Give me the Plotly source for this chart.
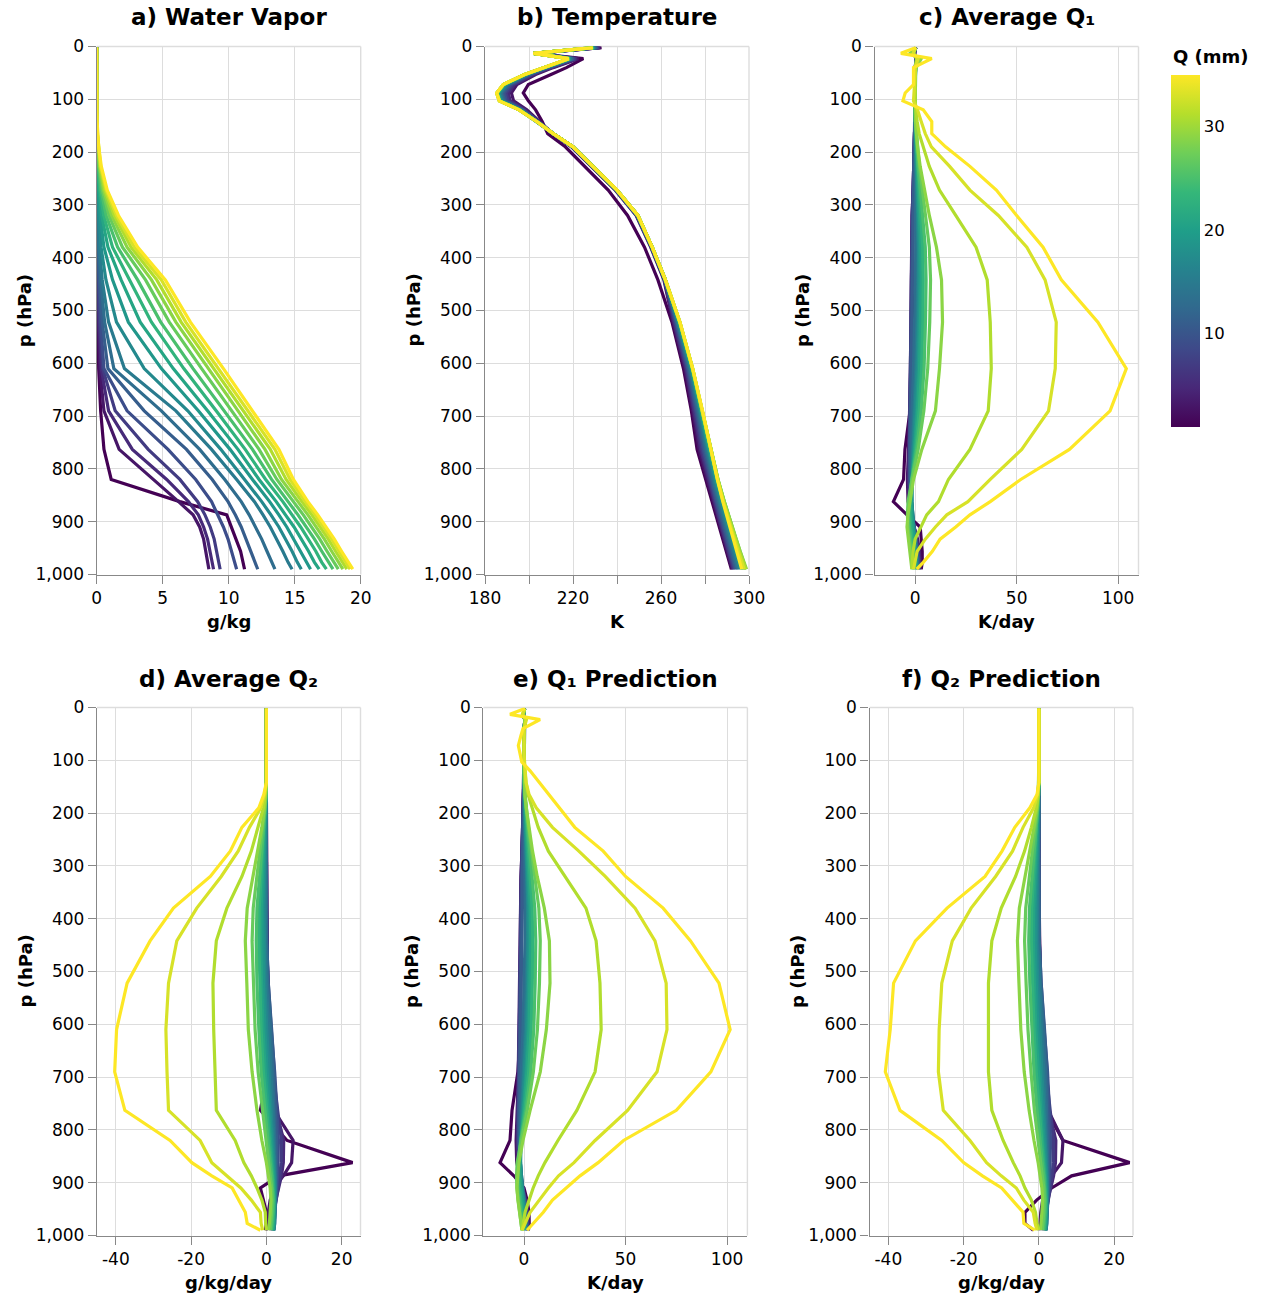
import plotly.graph_objects as go
from plotly.colors import sample_colorscale

W, H = 1263, 1298

# Model pressure levels (hPa), surface first
P_LEVELS = [990, 977, 956, 933, 910, 887, 862, 820, 763, 690, 610, 522, 442, 380, 320,
            272, 227, 190, 165, 142, 120, 103, 88, 72, 53, 40, 23, 13, 2]

# Precipitable-water bins (mm), one profile per bin
Q_BINS = [1, 3, 5, 7, 9, 11, 13, 15, 17, 19, 21, 23, 25, 27, 29, 31, 33, 35]

# a) water vapour (g/kg)
QV = [
    [11.2, 11.1, 10.9, 10.55, 10.2, 9.85, 6.3, 1.1, 0.55, 0.3, 0.15, 0.08, 0.04, 0.02, 0.01, 0, 0, 0, 0, 0, 0, 0, 0, 0, 0, 0, 0, 0, 0],
    [8.5, 8.4, 8.3, 8.1, 7.8, 7.3, 6.2, 4.3, 1.7, 0.55, 0.24, 0.12, 0.06, 0.03, 0.01, 0.01, 0, 0, 0, 0, 0, 0, 0, 0, 0, 0, 0, 0, 0],
    [8.85, 8.75, 8.6, 8.4, 8.1, 7.7, 6.95, 5.3, 2.7, 0.9, 0.34, 0.17, 0.09, 0.04, 0.02, 0.01, 0, 0, 0, 0, 0, 0, 0, 0, 0, 0, 0, 0, 0],
    [9.35, 9.25, 9.1, 8.9, 8.6, 8.2, 7.65, 6.3, 3.9, 1.4, 0.45, 0.22, 0.11, 0.05, 0.03, 0.01, 0, 0, 0, 0, 0, 0, 0, 0, 0, 0, 0, 0, 0],
    [10.6, 10.45, 10.2, 9.95, 9.6, 9.2, 8.7, 7.5, 5.4, 2.3, 0.55, 0.3, 0.15, 0.07, 0.04, 0.02, 0.01, 0, 0, 0, 0, 0, 0, 0, 0, 0, 0, 0, 0],
    [12.2, 12.0, 11.7, 11.35, 10.95, 10.5, 9.95, 8.75, 6.8, 3.6, 0.85, 0.42, 0.2, 0.1, 0.05, 0.02, 0.01, 0, 0, 0, 0, 0, 0, 0, 0, 0, 0, 0, 0],
    [13.5, 13.25, 12.9, 12.5, 12.05, 11.55, 10.95, 9.7, 7.8, 4.9, 1.3, 0.6, 0.3, 0.14, 0.07, 0.03, 0.01, 0, 0, 0, 0, 0, 0, 0, 0, 0, 0, 0, 0],
    [14.8, 14.5, 14.1, 13.65, 13.15, 12.6, 11.95, 10.6, 8.7, 6.0, 2.1, 0.9, 0.42, 0.2, 0.1, 0.04, 0.02, 0.01, 0, 0, 0, 0, 0, 0, 0, 0, 0, 0, 0],
    [15.5, 15.2, 14.8, 14.3, 13.8, 13.2, 12.5, 11.2, 9.4, 6.9, 3.6, 1.5, 0.7, 0.33, 0.15, 0.07, 0.03, 0.01, 0, 0, 0, 0, 0, 0, 0, 0, 0, 0, 0],
    [16.2, 15.9, 15.45, 14.95, 14.4, 13.8, 13.1, 11.8, 10.1, 7.7, 4.9, 2.4, 1.2, 0.55, 0.25, 0.11, 0.05, 0.02, 0.01, 0, 0, 0, 0, 0, 0, 0, 0, 0, 0],
    [16.85, 16.5, 16.05, 15.5, 14.95, 14.3, 13.6, 12.3, 10.7, 8.4, 5.8, 3.3, 1.85, 0.85, 0.38, 0.17, 0.07, 0.03, 0.01, 0, 0, 0, 0, 0, 0, 0, 0, 0, 0],
    [17.4, 17.05, 16.6, 16.05, 15.45, 14.8, 14.1, 12.8, 11.25, 9.05, 6.6, 4.15, 2.5, 1.2, 0.53, 0.24, 0.1, 0.04, 0.02, 0.01, 0, 0, 0, 0, 0, 0, 0, 0, 0],
    [17.9, 17.55, 17.05, 16.5, 15.9, 15.25, 14.5, 13.25, 11.8, 9.65, 7.3, 4.85, 3.1, 1.58, 0.72, 0.32, 0.14, 0.06, 0.02, 0.01, 0, 0, 0, 0, 0, 0, 0, 0, 0],
    [18.3, 17.95, 17.45, 16.9, 16.3, 15.65, 14.9, 13.65, 12.3, 10.2, 7.95, 5.5, 3.7, 1.95, 0.93, 0.42, 0.18, 0.07, 0.03, 0.01, 0, 0, 0, 0, 0, 0, 0, 0, 0],
    [18.65, 18.3, 17.8, 17.25, 16.65, 16.0, 15.25, 14.0, 12.75, 10.7, 8.45, 6.0, 4.15, 2.3, 1.13, 0.52, 0.22, 0.09, 0.04, 0.02, 0.01, 0, 0, 0, 0, 0, 0, 0, 0],
    [18.95, 18.6, 18.1, 17.55, 16.95, 16.3, 15.55, 14.35, 13.15, 11.1, 8.9, 6.4, 4.55, 2.6, 1.33, 0.62, 0.26, 0.11, 0.05, 0.02, 0.01, 0, 0, 0, 0, 0, 0, 0, 0],
    [19.2, 18.85, 18.35, 17.8, 17.2, 16.55, 15.8, 14.65, 13.5, 11.45, 9.25, 6.75, 4.9, 2.85, 1.5, 0.72, 0.3, 0.13, 0.06, 0.02, 0.01, 0, 0, 0, 0, 0, 0, 0, 0],
    [19.4, 19.05, 18.55, 18.0, 17.4, 16.75, 16.0, 14.9, 13.8, 11.8, 9.6, 7.1, 5.2, 3.1, 1.65, 0.8, 0.35, 0.15, 0.07, 0.03, 0.01, 0, 0, 0, 0, 0, 0, 0, 0],
]

# b) temperature (K)
TEMP = [
    [292.0, 291.1, 289.6, 288.1, 286.6, 285.0, 283.3, 280.4, 276.4, 273.8, 270.2, 265.0, 258.6, 252.5, 244.8, 236.0, 225.5, 216.5, 208.5, 206.0, 203.0, 199.7, 197.4, 199.7, 210.0, 217.0, 224.7, 202.5, 233.0],
    [292.4, 291.5, 290.0, 288.5, 287.0, 285.4, 283.8, 281.0, 277.3, 274.4, 270.8, 265.5, 261.3, 255.3, 248.7, 239.2, 228.3, 219.3, 210.8, 204.5, 199.0, 193.0, 192.0, 194.5, 203.0, 211.0, 222.5, 202.4, 232.6],
    [292.8, 291.9, 290.4, 288.9, 287.4, 285.9, 284.3, 281.6, 278.0, 274.9, 271.3, 265.9, 261.5, 255.5, 248.9, 239.4, 228.5, 219.5, 210.9, 204.2, 198.2, 191.5, 190.6, 193.4, 202.0, 210.2, 221.8, 202.3, 232.2],
    [293.2, 292.3, 290.8, 289.3, 287.8, 286.3, 284.7, 282.1, 278.6, 275.4, 271.7, 266.3, 261.6, 255.6, 249.0, 239.5, 228.6, 219.6, 211.0, 204.0, 197.6, 190.5, 189.6, 192.5, 201.3, 209.5, 221.2, 202.3, 231.8],
    [293.7, 292.8, 291.3, 289.7, 288.2, 286.7, 285.1, 282.6, 279.2, 275.9, 272.1, 266.7, 261.7, 255.7, 249.1, 239.6, 228.7, 219.7, 211.0, 203.9, 197.2, 189.7, 188.8, 191.7, 200.6, 208.9, 220.6, 202.2, 231.4],
    [294.2, 293.3, 291.8, 290.2, 288.7, 287.2, 285.6, 283.1, 279.8, 276.4, 272.5, 267.0, 261.8, 255.8, 249.2, 239.7, 228.8, 219.8, 211.0, 203.8, 196.8, 189.0, 188.0, 191.0, 200.0, 208.4, 220.1, 202.2, 231.0],
    [294.8, 293.9, 292.4, 290.8, 289.3, 287.8, 286.2, 283.6, 280.4, 276.9, 272.9, 267.3, 261.8, 255.8, 249.3, 239.8, 228.9, 219.9, 211.0, 203.7, 196.5, 188.4, 187.4, 190.4, 199.5, 207.9, 219.7, 202.1, 230.6],
    [295.4, 294.5, 293.0, 291.4, 289.9, 288.4, 286.7, 284.1, 280.9, 277.4, 273.3, 267.6, 261.9, 255.9, 249.3, 239.8, 228.9, 219.9, 211.0, 203.6, 196.2, 187.9, 186.9, 189.9, 199.1, 207.5, 219.3, 202.1, 230.3],
    [296.0, 295.1, 293.6, 292.0, 290.5, 288.9, 287.2, 284.6, 281.4, 277.8, 273.6, 267.9, 261.9, 255.9, 249.4, 239.9, 229.0, 220.0, 211.0, 203.6, 196.0, 187.5, 186.4, 189.4, 198.8, 207.2, 219.0, 202.1, 230.0],
    [296.6, 295.7, 294.2, 292.6, 291.0, 289.4, 287.7, 285.0, 281.8, 278.1, 273.9, 268.1, 262.0, 256.0, 249.4, 239.9, 229.0, 220.0, 211.0, 203.5, 195.8, 187.2, 186.0, 189.0, 198.5, 206.9, 218.7, 202.0, 229.8],
    [297.2, 296.2, 294.7, 293.1, 291.5, 289.9, 288.1, 285.4, 282.1, 278.4, 274.1, 268.3, 262.0, 256.0, 249.5, 240.0, 229.0, 220.0, 211.0, 203.5, 195.7, 187.0, 185.8, 188.8, 198.3, 206.8, 218.5, 202.0, 229.6],
    [297.7, 296.7, 295.2, 293.5, 291.9, 290.2, 288.4, 285.6, 282.4, 278.6, 274.2, 268.4, 262.0, 256.0, 249.5, 240.0, 229.0, 220.0, 211.0, 203.5, 195.6, 186.8, 185.6, 188.6, 198.2, 206.7, 218.4, 202.0, 229.4],
    [298.2, 297.2, 295.6, 293.9, 292.2, 290.5, 288.7, 285.8, 282.6, 278.7, 274.3, 268.5, 262.0, 256.0, 249.5, 240.0, 229.0, 220.0, 211.0, 203.5, 195.6, 186.7, 185.5, 188.5, 198.1, 206.6, 218.3, 202.0, 229.3],
    [298.6, 297.5, 295.9, 294.1, 292.4, 290.6, 288.8, 285.9, 282.7, 278.8, 274.3, 268.5, 262.0, 256.0, 249.5, 240.0, 229.0, 220.0, 211.0, 203.5, 195.5, 186.6, 185.4, 188.4, 198.0, 206.6, 218.2, 202.0, 229.2],
    [298.9, 297.7, 296.0, 294.2, 292.4, 290.6, 288.8, 285.9, 282.7, 278.8, 274.4, 268.6, 262.0, 256.0, 249.5, 240.0, 229.0, 220.0, 211.0, 203.5, 195.5, 186.5, 185.3, 188.3, 198.0, 206.5, 218.1, 202.0, 229.1],
    [298.5, 297.3, 295.6, 293.8, 292.0, 290.3, 288.5, 285.8, 282.7, 278.9, 274.4, 268.6, 262.0, 256.0, 249.5, 240.0, 229.0, 220.0, 211.0, 203.5, 195.5, 186.5, 185.3, 188.3, 198.0, 206.5, 218.0, 202.0, 229.0],
    [297.8, 296.7, 295.1, 293.4, 291.7, 290.0, 288.3, 285.7, 282.7, 278.9, 274.4, 268.6, 262.0, 256.0, 249.5, 240.0, 229.0, 220.0, 211.0, 203.5, 195.5, 186.5, 185.3, 188.3, 198.0, 206.5, 218.0, 202.0, 229.0],
    [296.7, 295.8, 294.4, 292.8, 291.3, 289.8, 288.1, 285.6, 282.7, 278.9, 274.4, 268.6, 262.0, 256.0, 249.5, 240.0, 229.0, 220.0, 211.0, 203.5, 195.5, 186.5, 185.3, 188.3, 198.0, 206.5, 218.0, 202.0, 229.0],
]

# c) average apparent heating Q1 (K/day)
Q1_AVG = [
    [3.0, 3.5, 3.5, 3.0, 2.5, -4.0, -10.7, -5.7, -5.0, -2.5, -1.5, -1.2, -1.2, -1.5, -1.2, -0.8, -0.5, -0.3, -0.2, -0.1, 0.0, 0.0, 0.0, 0.0, 0.0, 0.1, 0.3, -0.2, 0.3],
    [2.5, 2.6, 2.2, 1.2, -0.5, -2.0, -3.5, -3.8, -3.2, -2.6, -2.2, -1.9, -1.8, -1.8, -1.5, -1.0, -0.6, -0.3, -0.2, -0.1, 0.0, 0.0, 0.0, 0.0, 0.0, 0.1, 0.4, -0.3, 0.3],
    [2.2, 2.2, 1.8, 0.8, -0.6, -1.8, -2.8, -3.3, -3.0, -2.6, -2.3, -2.0, -1.9, -1.8, -1.5, -1.0, -0.6, -0.3, -0.2, -0.1, 0.0, 0.0, 0.0, 0.0, 0.0, 0.1, 0.4, -0.3, 0.3],
    [2.0, 1.9, 1.5, 0.6, -0.6, -1.6, -2.4, -2.9, -2.8, -2.6, -2.3, -2.0, -1.8, -1.7, -1.4, -1.0, -0.6, -0.3, -0.2, -0.1, 0.0, 0.0, 0.0, 0.0, 0.0, 0.1, 0.5, -0.4, 0.3],
    [1.8, 1.6, 1.2, 0.4, -0.6, -1.4, -2.1, -2.6, -2.7, -2.5, -2.2, -1.8, -1.6, -1.5, -1.2, -0.9, -0.5, -0.3, -0.2, -0.1, 0.0, 0.0, 0.0, 0.0, 0.0, 0.1, 0.5, -0.4, 0.3],
    [1.6, 1.4, 1.0, 0.3, -0.6, -1.3, -1.9, -2.4, -2.5, -2.2, -1.8, -1.3, -1.0, -1.0, -0.9, -0.7, -0.4, -0.2, -0.1, 0.0, 0.0, 0.0, 0.0, 0.0, 0.0, 0.1, 0.6, -0.5, 0.3],
    [1.4, 1.2, 0.8, 0.2, -0.6, -1.2, -1.7, -2.1, -2.0, -1.5, -0.8, -0.2, 0.2, 0.3, 0.2, 0.0, -0.1, -0.1, 0.0, 0.0, 0.0, 0.0, 0.0, 0.0, 0.0, 0.1, 0.7, -0.6, 0.3],
    [1.2, 1.0, 0.6, 0.0, -0.7, -1.2, -1.6, -1.8, -1.4, -0.6, 0.3, 1.0, 1.3, 1.3, 1.0, 0.6, 0.3, 0.1, 0.0, 0.0, 0.0, 0.0, 0.0, 0.0, 0.0, 0.2, 0.8, -0.7, 0.3],
    [1.0, 0.8, 0.4, -0.2, -0.8, -1.3, -1.6, -1.6, -0.9, 0.1, 0.9, 1.5, 1.7, 1.7, 1.3, 0.8, 0.4, 0.2, 0.1, 0.0, 0.0, 0.0, 0.0, 0.0, 0.0, 0.2, 0.9, -0.8, 0.3],
    [0.8, 0.5, 0.1, -0.5, -1.1, -1.5, -1.7, -1.5, -0.5, 0.7, 1.6, 2.1, 2.3, 2.2, 1.7, 1.1, 0.6, 0.3, 0.1, 0.0, 0.0, 0.0, 0.0, 0.0, 0.0, 0.2, 1.0, -0.9, 0.3],
    [0.5, 0.2, -0.2, -0.9, -1.5, -1.9, -2.0, -1.5, -0.2, 1.2, 2.2, 2.8, 3.0, 2.8, 2.1, 1.4, 0.8, 0.4, 0.2, 0.1, 0.0, 0.0, 0.0, 0.0, 0.0, 0.2, 1.2, -1.0, 0.3],
    [0.0, -0.4, -0.8, -1.5, -2.1, -2.5, -2.5, -1.6, 0.3, 2.0, 3.2, 3.8, 4.0, 3.7, 2.8, 1.9, 1.1, 0.5, 0.2, 0.1, 0.0, 0.0, 0.0, 0.0, 0.0, 0.3, 1.5, -1.2, 0.3],
    [-0.5, -0.9, -1.4, -2.1, -2.8, -3.1, -3.0, -1.6, 0.8, 3.0, 4.4, 5.1, 5.4, 5.0, 3.8, 2.6, 1.5, 0.8, 0.4, 0.2, 0.1, 0.0, 0.0, 0.0, 0.0, 0.3, 2.0, -1.5, 0.3],
    [-1.0, -1.4, -2.0, -2.8, -3.5, -3.8, -3.5, -1.5, 1.5, 4.3, 6.2, 7.2, 7.6, 7.0, 5.3, 3.6, 2.1, 1.1, 0.5, 0.2, 0.1, 0.0, 0.0, 0.0, 0.0, 0.4, 2.5, -2.0, 0.3],
    [-1.6, -2.0, -2.6, -3.5, -4.0, -3.5, -2.5, -0.8, 3.3, 10.0, 12.0, 13.5, 13.0, 10.5, 7.0, 4.5, 2.5, 1.2, 0.5, 0.2, 0.1, 0.0, 0.0, 0.0, 0.0, 0.5, 3.0, -2.5, 0.3],
    [-1.6, -1.5, -1.0, 0.0, 3.0, 5.7, 11.5, 16.4, 27.0, 36.0, 37.5, 37.0, 35.5, 30.0, 20.0, 12.0, 7.0, 4.0, 2.0, 1.0, 0.3, 0.0, 0.0, 0.0, 0.0, 0.0, 0.8, -0.8, 0.3],
    [-0.8, 0.0, 1.0, 5.0, 10.0, 15.6, 26.0, 37.0, 52.5, 65.7, 69.0, 69.5, 64.0, 55.0, 41.0, 27.0, 17.0, 8.0, 5.0, 3.0, 1.2, -0.8, -0.5, -0.3, 0.0, 0.0, 1.5, -1.0, 0.3],
    [0.8, 4.0, 8.5, 12.3, 20.0, 27.0, 37.0, 52.0, 76.0, 96.0, 104.0, 90.0, 72.0, 63.0, 50.0, 40.0, 27.0, 15.0, 8.2, 8.2, 4.0, -6.0, -4.9, -0.8, -0.8, -0.8, 8.2, -7.0, 0.5],
]

# d) average apparent moisture sink Q2 (g/kg/day)
Q2_AVG = [
    [-0.3, 0.0, 0.0, -0.7, -1.6, 3.3, 22.9, 5.5, -1.6, 0.3, 0.5, 0.3, 0.2, 0.1, 0.0, 0.0, 0.0, 0.0, 0.0, 0.0, 0.0, 0, 0, 0, 0, 0, 0, 0, 0],
    [0.0, 0.3, 0.5, 1.0, 2.0, 4.5, 6.7, 7.1, 2.0, 1.0, 0.6, 0.3, 0.1, 0.0, 0.0, 0.0, 0.0, 0.0, 0.0, 0.0, 0.0, 0, 0, 0, 0, 0, 0, 0, 0],
    [1.0, 1.2, 1.7, 2.5, 3.3, 4.0, 4.5, 4.6, 2.6, 1.3, 0.7, 0.3, 0.1, 0.0, 0.0, 0.0, 0.0, 0.0, 0.0, 0.0, 0.0, 0, 0, 0, 0, 0, 0, 0, 0],
    [1.4, 1.6, 2.0, 2.6, 3.2, 3.6, 3.9, 4.0, 3.0, 1.8, 1.0, 0.4, 0.1, 0.0, 0.0, 0.0, 0.0, 0.0, 0.0, 0.0, 0.0, 0, 0, 0, 0, 0, 0, 0, 0],
    [1.7, 1.9, 2.2, 2.5, 2.8, 3.0, 3.1, 3.2, 2.8, 2.2, 1.3, 0.5, 0.1, 0.0, 0.0, 0.0, 0.0, 0.0, 0.0, 0.0, 0.0, 0, 0, 0, 0, 0, 0, 0, 0],
    [1.9, 2.1, 2.3, 2.5, 2.6, 2.7, 2.7, 2.7, 2.5, 2.1, 1.4, 0.5, 0.1, 0.0, 0.0, 0.0, 0.0, 0.0, 0.0, 0.0, 0.0, 0, 0, 0, 0, 0, 0, 0, 0],
    [2.0, 2.2, 2.3, 2.5, 2.5, 2.5, 2.4, 2.3, 2.1, 1.7, 1.1, 0.3, 0.0, -0.1, -0.1, -0.1, 0.0, 0.0, 0.0, 0.0, 0.0, 0, 0, 0, 0, 0, 0, 0, 0],
    [2.0, 2.2, 2.3, 2.4, 2.4, 2.3, 2.2, 2.0, 1.7, 1.2, 0.6, 0.0, -0.3, -0.3, -0.3, -0.2, -0.1, 0.0, 0.0, 0.0, 0.0, 0, 0, 0, 0, 0, 0, 0, 0],
    [1.9, 2.1, 2.2, 2.3, 2.3, 2.2, 2.0, 1.7, 1.3, 0.7, 0.1, -0.4, -0.6, -0.6, -0.5, -0.3, -0.2, -0.1, 0.0, 0.0, 0.0, 0, 0, 0, 0, 0, 0, 0, 0],
    [1.8, 2.0, 2.1, 2.2, 2.1, 2.0, 1.8, 1.4, 0.9, 0.2, -0.4, -0.8, -1.0, -1.0, -0.7, -0.5, -0.3, -0.1, 0.0, 0.0, 0.0, 0, 0, 0, 0, 0, 0, 0, 0],
    [1.7, 1.9, 2.0, 2.1, 2.0, 1.8, 1.5, 1.1, 0.5, -0.3, -0.9, -1.3, -1.5, -1.4, -1.0, -0.7, -0.4, -0.2, 0.0, 0.0, 0.0, 0, 0, 0, 0, 0, 0, 0, 0],
    [1.5, 1.7, 1.9, 2.0, 1.9, 1.6, 1.3, 0.8, 0.0, -0.8, -1.4, -1.8, -2.0, -1.9, -1.4, -0.9, -0.5, -0.2, -0.1, 0.0, 0.0, 0, 0, 0, 0, 0, 0, 0, 0],
    [1.3, 1.5, 1.7, 1.8, 1.7, 1.4, 1.0, 0.4, -0.5, -1.4, -2.0, -2.5, -2.7, -2.5, -1.8, -1.2, -0.7, -0.3, -0.1, 0.0, 0.0, 0, 0, 0, 0, 0, 0, 0, 0],
    [1.0, 1.2, 1.4, 1.5, 1.4, 1.0, 0.6, -0.2, -1.2, -2.2, -3.0, -3.5, -3.8, -3.5, -2.5, -1.6, -0.9, -0.4, -0.1, 0.0, 0.0, 0, 0, 0, 0, 0, 0, 0, 0],
    [0.5, 0.8, 1.0, 1.2, 1.0, 0.5, 0.0, -1.2, -2.5, -3.8, -4.8, -5.2, -5.6, -5.1, -3.5, -2.2, -1.2, -0.5, -0.2, 0.0, 0.0, 0, 0, 0, 0, 0, 0, 0, 0],
    [0.0, -0.2, -0.3, -1.2, -2.5, -4.0, -6.0, -8.3, -13.3, -13.7, -14.0, -14.2, -13.3, -10.5, -6.5, -4.0, -2.2, -0.8, -0.3, 0.0, 0.0, 0, 0, 0, 0, 0, 0, 0, 0],
    [-1.0, -1.4, -1.6, -4.0, -6.8, -10.5, -14.5, -17.6, -26.0, -26.4, -26.7, -26.0, -23.8, -18.5, -12.0, -7.5, -4.5, -1.5, -0.5, 0.0, 0.0, 0, 0, 0, 0, 0, 0, 0, 0],
    [-1.6, -5.1, -5.6, -7.4, -9.1, -14.5, -19.8, -25.6, -37.6, -40.3, -39.8, -37.0, -30.9, -24.7, -14.9, -9.6, -6.5, -2.0, -0.7, 0.0, 0.0, 0, 0, 0, 0, 0, 0, 0, 0],
]

# e) predicted Q1 (K/day)
Q1_PRED = [
    [2.0, 2.5, 2.5, 1.5, 0.0, -5.0, -11.8, -6.9, -5.9, -3.0, -1.8, -1.4, -1.3, -1.5, -1.2, -0.8, -0.5, -0.3, -0.2, -0.1, 0.0, 0.0, 0.0, 0.0, 0.0, 0.1, 0.3, -0.2, 0.3],
    [2.2, 2.4, 2.0, 1.0, -0.6, -2.2, -3.6, -3.9, -3.3, -2.7, -2.3, -2.0, -1.9, -1.8, -1.5, -1.0, -0.6, -0.3, -0.2, -0.1, 0.0, 0.0, 0.0, 0.0, 0.0, 0.1, 0.4, -0.3, 0.3],
    [2.0, 2.0, 1.6, 0.7, -0.7, -1.9, -2.9, -3.3, -3.1, -2.7, -2.3, -2.0, -1.9, -1.8, -1.5, -1.0, -0.6, -0.3, -0.2, -0.1, 0.0, 0.0, 0.0, 0.0, 0.0, 0.1, 0.4, -0.3, 0.3],
    [1.9, 1.8, 1.4, 0.5, -0.7, -1.7, -2.5, -3.0, -2.9, -2.6, -2.3, -2.0, -1.8, -1.7, -1.4, -1.0, -0.6, -0.3, -0.2, -0.1, 0.0, 0.0, 0.0, 0.0, 0.0, 0.1, 0.4, -0.3, 0.3],
    [1.7, 1.5, 1.1, 0.3, -0.7, -1.5, -2.2, -2.7, -2.7, -2.5, -2.1, -1.7, -1.5, -1.4, -1.2, -0.9, -0.5, -0.3, -0.2, -0.1, 0.0, 0.0, 0.0, 0.0, 0.0, 0.1, 0.4, -0.3, 0.3],
    [1.5, 1.3, 0.9, 0.2, -0.7, -1.4, -2.0, -2.4, -2.4, -2.1, -1.6, -1.1, -0.8, -0.8, -0.8, -0.6, -0.4, -0.2, -0.1, 0.0, 0.0, 0.0, 0.0, 0.0, 0.0, 0.1, 0.4, -0.3, 0.3],
    [1.3, 1.1, 0.7, 0.1, -0.7, -1.3, -1.8, -2.1, -1.9, -1.3, -0.5, 0.1, 0.5, 0.6, 0.4, 0.2, 0.0, 0.0, 0.0, 0.0, 0.0, 0.0, 0.0, 0.0, 0.0, 0.1, 0.4, -0.3, 0.3],
    [1.1, 0.9, 0.5, -0.1, -0.8, -1.3, -1.7, -1.8, -1.3, -0.4, 0.6, 1.3, 1.6, 1.6, 1.2, 0.7, 0.4, 0.2, 0.1, 0.0, 0.0, 0.0, 0.0, 0.0, 0.0, 0.1, 0.4, -0.3, 0.3],
    [0.9, 0.7, 0.3, -0.3, -0.9, -1.4, -1.7, -1.6, -0.8, 0.3, 1.2, 1.8, 2.0, 1.9, 1.5, 0.9, 0.5, 0.2, 0.1, 0.0, 0.0, 0.0, 0.0, 0.0, 0.0, 0.1, 0.4, -0.3, 0.3],
    [0.7, 0.4, 0.0, -0.6, -1.2, -1.6, -1.8, -1.5, -0.4, 0.9, 1.9, 2.4, 2.6, 2.5, 1.9, 1.2, 0.7, 0.3, 0.1, 0.0, 0.0, 0.0, 0.0, 0.0, 0.0, 0.1, 0.4, -0.3, 0.3],
    [0.4, 0.1, -0.3, -1.0, -1.6, -2.0, -2.1, -1.5, -0.1, 1.4, 2.5, 3.1, 3.3, 3.1, 2.3, 1.5, 0.9, 0.4, 0.2, 0.1, 0.0, 0.0, 0.0, 0.0, 0.0, 0.1, 0.4, -0.3, 0.3],
    [-0.1, -0.5, -0.9, -1.6, -2.2, -2.6, -2.6, -1.6, 0.4, 2.3, 3.5, 4.1, 4.3, 4.0, 3.0, 2.0, 1.2, 0.6, 0.2, 0.1, 0.0, 0.0, 0.0, 0.0, 0.0, 0.1, 0.4, -0.3, 0.3],
    [-0.6, -1.0, -1.5, -2.2, -2.9, -3.2, -3.0, -1.6, 1.0, 3.3, 4.8, 5.5, 5.8, 5.3, 4.0, 2.7, 1.6, 0.8, 0.4, 0.2, 0.1, 0.0, 0.0, 0.0, 0.0, 0.1, 0.4, -0.3, 0.3],
    [-1.0, -1.5, -2.1, -2.9, -3.5, -3.7, -3.4, -1.4, 1.6, 4.6, 6.6, 7.6, 8.0, 7.3, 5.5, 3.7, 2.2, 1.1, 0.5, 0.2, 0.1, 0.0, 0.0, 0.0, 0.0, 0.1, 0.4, -0.3, 0.3],
    [-1.0, -1.5, -2.2, -3.0, -3.5, -3.2, -2.5, -0.5, 3.0, 8.0, 11.0, 12.8, 12.5, 10.0, 6.5, 4.2, 2.4, 1.1, 0.5, 0.2, 0.1, 0.0, 0.0, 0.0, 0.0, 0.1, 0.5, -0.4, 0.3],
    [-1.0, -0.5, 0.5, 2.5, 4.5, 7.0, 10.3, 16.7, 26.0, 35.0, 38.0, 37.4, 35.5, 30.5, 20.0, 12.0, 7.0, 4.0, 2.0, 1.0, 0.3, 0.0, 0.0, 0.0, 0.0, 0.0, 0.8, -0.6, 0.3],
    [-1.0, 0.5, 3.0, 7.5, 12.0, 17.0, 24.6, 35.0, 51.0, 65.5, 70.4, 70.0, 64.5, 54.7, 40.0, 27.0, 14.0, 6.0, 2.5, 1.0, 0.5, 0.0, 0.0, 0.0, 0.0, 0.0, 1.2, -0.8, 0.3],
    [1.5, 4.5, 9.5, 14.0, 21.0, 27.6, 36.5, 49.0, 75.0, 92.0, 101.5, 96.0, 82.0, 68.5, 50.0, 39.0, 25.0, 17.5, 12.4, 7.5, 3.0, -1.1, -2.0, -2.8, -1.5, -0.5, 7.9, -6.9, 0.5],
]

# f) predicted Q2 (g/kg/day)
Q2_PRED = [
    [-1.5, -3.7, -3.7, -0.6, 3.4, 8.7, 24.1, 6.4, 2.0, 0.5, 0.5, 0.3, 0.2, 0.1, 0.0, 0.0, 0.0, 0.0, 0.0, 0.0, 0.0, 0, 0, 0, 0, 0, 0, 0, 0],
    [0.0, 0.3, 0.5, 1.0, 2.0, 3.4, 6.0, 6.4, 2.5, 1.2, 0.6, 0.3, 0.1, 0.0, 0.0, 0.0, 0.0, 0.0, 0.0, 0.0, 0.0, 0, 0, 0, 0, 0, 0, 0, 0],
    [0.8, 1.1, 1.6, 2.4, 3.2, 3.9, 4.4, 4.5, 2.7, 1.4, 0.7, 0.3, 0.1, 0.0, 0.0, 0.0, 0.0, 0.0, 0.0, 0.0, 0.0, 0, 0, 0, 0, 0, 0, 0, 0],
    [1.3, 1.5, 1.9, 2.5, 3.1, 3.5, 3.8, 3.9, 3.0, 1.9, 1.1, 0.4, 0.1, 0.0, 0.0, 0.0, 0.0, 0.0, 0.0, 0.0, 0.0, 0, 0, 0, 0, 0, 0, 0, 0],
    [1.6, 1.8, 2.1, 2.4, 2.7, 2.9, 3.0, 3.1, 2.8, 2.3, 1.4, 0.6, 0.1, 0.0, 0.0, 0.0, 0.0, 0.0, 0.0, 0.0, 0.0, 0, 0, 0, 0, 0, 0, 0, 0],
    [1.8, 2.0, 2.2, 2.4, 2.5, 2.6, 2.6, 2.6, 2.5, 2.2, 1.5, 0.6, 0.1, 0.0, 0.0, 0.0, 0.0, 0.0, 0.0, 0.0, 0.0, 0, 0, 0, 0, 0, 0, 0, 0],
    [1.9, 2.1, 2.2, 2.4, 2.4, 2.4, 2.3, 2.2, 2.1, 1.8, 1.2, 0.4, 0.0, -0.1, -0.1, -0.1, 0.0, 0.0, 0.0, 0.0, 0.0, 0, 0, 0, 0, 0, 0, 0, 0],
    [1.9, 2.1, 2.2, 2.3, 2.3, 2.2, 2.1, 1.9, 1.7, 1.3, 0.7, 0.1, -0.3, -0.3, -0.3, -0.2, -0.1, 0.0, 0.0, 0.0, 0.0, 0, 0, 0, 0, 0, 0, 0, 0],
    [1.8, 2.0, 2.1, 2.2, 2.2, 2.1, 1.9, 1.6, 1.3, 0.8, 0.2, -0.3, -0.6, -0.6, -0.5, -0.3, -0.2, -0.1, 0.0, 0.0, 0.0, 0, 0, 0, 0, 0, 0, 0, 0],
    [1.7, 1.9, 2.0, 2.1, 2.0, 1.9, 1.7, 1.3, 0.9, 0.3, -0.3, -0.7, -1.0, -1.0, -0.7, -0.5, -0.3, -0.1, 0.0, 0.0, 0.0, 0, 0, 0, 0, 0, 0, 0, 0],
    [1.6, 1.8, 1.9, 2.0, 1.9, 1.7, 1.4, 1.0, 0.5, -0.2, -0.8, -1.2, -1.5, -1.4, -1.0, -0.7, -0.4, -0.2, 0.0, 0.0, 0.0, 0, 0, 0, 0, 0, 0, 0, 0],
    [1.4, 1.6, 1.8, 1.9, 1.8, 1.5, 1.2, 0.7, 0.0, -0.7, -1.3, -1.7, -2.0, -1.9, -1.4, -0.9, -0.5, -0.2, -0.1, 0.0, 0.0, 0, 0, 0, 0, 0, 0, 0, 0],
    [1.2, 1.4, 1.6, 1.7, 1.6, 1.3, 0.9, 0.3, -0.5, -1.3, -1.9, -2.4, -2.7, -2.5, -1.8, -1.2, -0.7, -0.3, -0.1, 0.0, 0.0, 0, 0, 0, 0, 0, 0, 0, 0],
    [0.9, 1.1, 1.3, 1.4, 1.3, 0.9, 0.5, -0.3, -1.2, -2.1, -2.9, -3.4, -3.8, -3.5, -2.5, -1.6, -0.9, -0.4, -0.1, 0.0, 0.0, 0, 0, 0, 0, 0, 0, 0, 0],
    [0.4, 0.6, 0.8, 1.0, 0.8, 0.3, -0.2, -1.3, -2.6, -3.9, -4.8, -5.3, -5.7, -5.2, -3.6, -2.3, -1.3, -0.5, -0.2, 0.0, 0.0, 0, 0, 0, 0, 0, 0, 0, 0],
    [0.0, -0.5, -0.9, -2.0, -3.7, -5.0, -6.8, -9.5, -12.5, -13.4, -13.4, -13.4, -12.5, -10.0, -6.2, -3.8, -2.0, -0.7, -0.2, 0.0, 0.0, 0, 0, 0, 0, 0, 0, 0, 0],
    [-0.5, -1.0, -1.5, -4.0, -6.0, -10.0, -13.9, -18.3, -25.4, -26.7, -26.5, -25.8, -23.0, -18.0, -11.5, -7.0, -4.2, -1.4, -0.4, 0.0, 0.0, 0, 0, 0, 0, 0, 0, 0, 0],
    [-1.1, -4.0, -4.2, -7.0, -9.9, -15.0, -20.0, -25.8, -36.9, -40.8, -39.5, -38.6, -32.8, -24.4, -14.3, -9.8, -6.4, -2.4, -0.5, 0.0, 0.0, 0, 0, 0, 0, 0, 0, 0, 0],
]

for block in (QV, TEMP, Q1_AVG, Q2_AVG, Q1_PRED, Q2_PRED):
    assert len(block) == len(Q_BINS)
    for row in block:
        assert len(row) == len(P_LEVELS)

FONT = "DejaVu Sans"
Q_MIN, Q_MAX = 1, 35

# panel layout in pixels: (left, right, top, bottom)
PANELS = [
    dict(rows=QV, title="a) Water Vapor", unit="g/kg", xr=[0, 20],
         ticks=[0, 5, 10, 15, 20], labels=["0", "5", "10", "15", "20"],
         box=(96.7, 360.7, 46.5, 574.5)),
    dict(rows=TEMP, title="b) Temperature", unit="K", xr=[180, 300],
         ticks=[180, 200, 220, 240, 260, 280, 300],
         labels=["180", "", "220", "", "260", "", "300"], box=(485.0, 749.0, 46.5, 574.5)),
    dict(rows=Q1_AVG, title="c) Average Q\u2081", unit="K/day", xr=[-20, 110],
         ticks=[0, 50, 100], labels=["0", "50", "100"], box=(874.5, 1138.5, 46.5, 574.5)),
    dict(rows=Q2_AVG, title="d) Average Q\u2082", unit="g/kg/day", xr=[-45, 25],
         ticks=[-40, -20, 0, 20], labels=["-40", "-20", "0", "20"],
         box=(97.0, 360.5, 707.5, 1235.5)),
    dict(rows=Q1_PRED, title="e) Q\u2081 Prediction", unit="K/day", xr=[-20, 110],
         ticks=[0, 50, 100], labels=["0", "50", "100"], box=(483.4, 747.4, 707.5, 1235.5)),
    dict(rows=Q2_PRED, title="f) Q\u2082 Prediction", unit="g/kg/day", xr=[-45, 25],
         ticks=[-40, -20, 0, 20], labels=["-40", "-20", "0", "20"],
         box=(869.5, 1133.0, 707.5, 1235.5)),
]

colors = sample_colorscale("Viridis", [(q - Q_MIN) / (Q_MAX - Q_MIN) for q in Q_BINS])

fig = go.Figure()
annotations = []
shapes = []
layout = {}


def px_x(v):
    return v / W


def px_y(v):
    return 1 - v / H


for i, pan in enumerate(PANELS, start=1):
    xa = "x" if i == 1 else f"x{i}"
    ya = "y" if i == 1 else f"y{i}"
    left, right, top, bottom = pan["box"]
    for q, col, row in zip(Q_BINS, colors, pan["rows"]):
        fig.add_trace(go.Scatter(
            x=row, y=P_LEVELS, mode="lines", xaxis=xa, yaxis=ya,
            line=dict(color=col, width=3.2), showlegend=False,
            name=f"Q={q} mm", hoverinfo="skip"))

    axis_common = dict(
        showgrid=True, gridcolor="#dddddd", gridwidth=1.4, zeroline=False,
        showline=True, linecolor="#888888", linewidth=1.4,
        ticks="outside", ticklen=8, tickwidth=1.4, tickcolor="#888888",
        tickfont=dict(family=FONT, size=17, color="#000000"),
    )
    xaxis = dict(axis_common, domain=[px_x(left), px_x(right)], range=pan["xr"],
                 anchor=ya, tickmode="array", tickvals=pan["ticks"],
                 ticktext=pan["labels"])
    yaxis = dict(axis_common, domain=[px_y(bottom), px_y(top)], range=[1000, 0],
                 anchor=xa, tickmode="array", tickvals=list(range(0, 1001, 100)),
                 ticktext=[f"{v:,}" for v in range(0, 1001, 100)])
    layout["xaxis" if i == 1 else f"xaxis{i}"] = xaxis
    layout["yaxis" if i == 1 else f"yaxis{i}"] = yaxis

    # light frame on the top and right edges of each view
    shapes.append(dict(type="line", xref="paper", yref="paper",
                       x0=px_x(left), x1=px_x(right), y0=px_y(top), y1=px_y(top),
                       line=dict(color="#dddddd", width=1.4), layer="below"))
    shapes.append(dict(type="line", xref="paper", yref="paper",
                       x0=px_x(right), x1=px_x(right), y0=px_y(top), y1=px_y(bottom),
                       line=dict(color="#dddddd", width=1.4), layer="below"))

    cx = (left + right) / 2
    annotations.append(dict(text=f"<b>{pan['title']}</b>", x=px_x(cx), y=px_y(top - 29),
                            xref="paper", yref="paper", showarrow=False,
                            xanchor="center", yanchor="middle",
                            font=dict(family=FONT, size=23, color="#000000")))
    annotations.append(dict(text=f"<b>{pan['unit']}</b>", x=px_x(cx), y=px_y(bottom + 47),
                            xref="paper", yref="paper", showarrow=False,
                            xanchor="center", yanchor="middle",
                            font=dict(family=FONT, size=18, color="#000000")))
    annotations.append(dict(text="<b>p (hPa)</b>", x=px_x(left - 72), y=px_y((top + bottom) / 2),
                            xref="paper", yref="paper", showarrow=False, textangle=-90,
                            xanchor="center", yanchor="middle",
                            font=dict(family=FONT, size=18, color="#000000")))

# colour bar for the precipitable-water bins
fig.add_trace(go.Scatter(
    x=[None], y=[None], mode="markers", xaxis="x3", yaxis="y3", showlegend=False,
    hoverinfo="skip",
    marker=dict(color=[Q_MIN, Q_MAX], cmin=Q_MIN, cmax=Q_MAX, colorscale="Viridis",
                showscale=True, size=0.1,
                colorbar=dict(x=px_x(1171), xanchor="left", y=px_y(74.7), yanchor="top",
                              thickness=29, thicknessmode="pixels",
                              len=352, lenmode="pixels", xpad=0, ypad=0,
                              outlinewidth=0, ticks="", tickvals=[10, 20, 30],
                              tickfont=dict(family=FONT, size=16.5, color="#000000")))))
annotations.append(dict(text="<b>Q (mm)</b>", x=px_x(1171), y=px_y(56),
                        xref="paper", yref="paper", showarrow=False,
                        xanchor="left", yanchor="middle",
                        font=dict(family=FONT, size=18, color="#000000")))

fig.update_layout(
    width=W, height=H, margin=dict(l=0, r=0, t=0, b=0, autoexpand=False),
    paper_bgcolor="white", plot_bgcolor="white",
    annotations=annotations, shapes=shapes,
    font=dict(family=FONT, color="#000000"),
    **layout,
)

fig.write_html("out.html")
